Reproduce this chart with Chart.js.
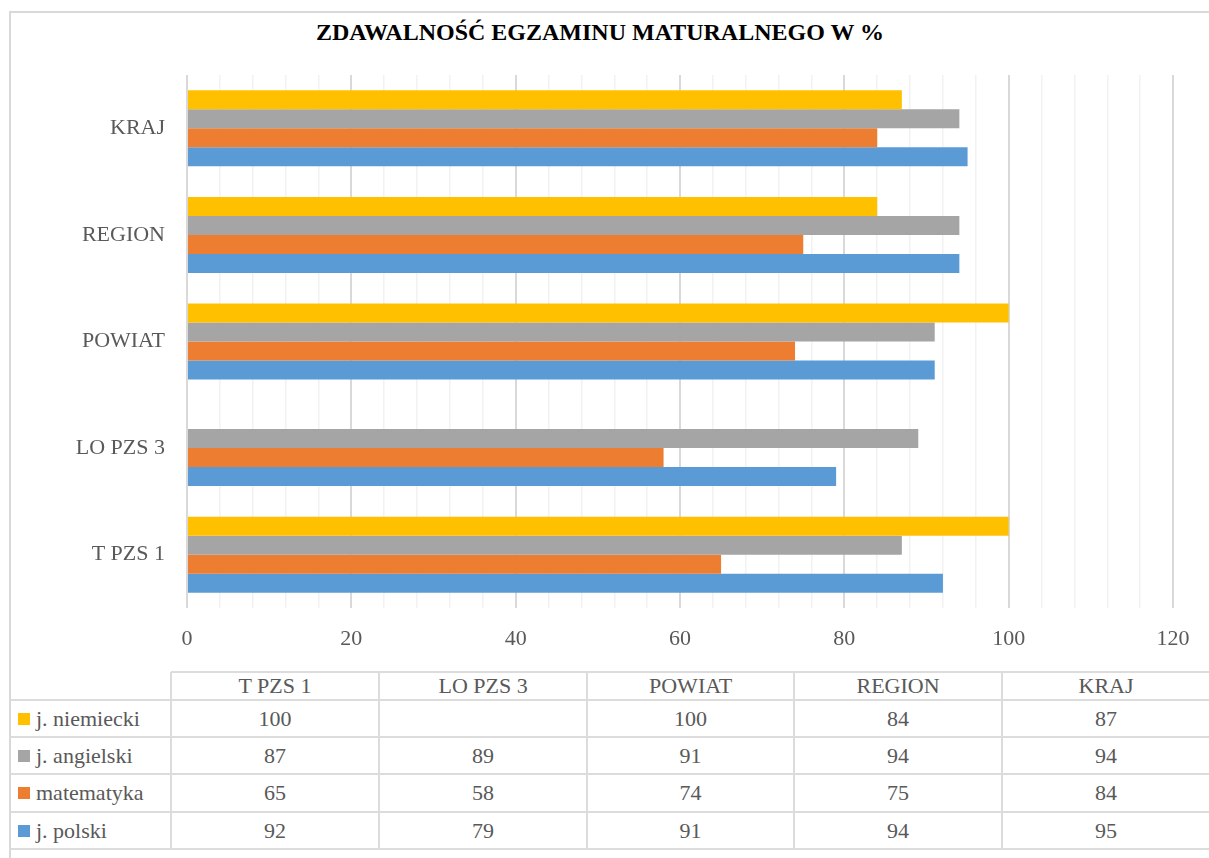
<!DOCTYPE html>
<html>
<head>
<meta charset="utf-8">
<script src="https://cdn.jsdelivr.net/npm/chart.js@4.4.1/dist/chart.umd.min.js"></script>
<style>
body{margin:0;background:#fff;width:1209px;height:858px;overflow:hidden;position:relative;font-family:"Liberation Serif",serif;color:#595959}
#frame{position:absolute;left:9px;top:11px;width:1300px;height:900px;border:2px solid #d9d9d9;box-sizing:border-box}
#wrap{position:absolute;left:0;top:0;width:1209px;height:658px}
#title{position:absolute;left:0;top:18px;width:1200px;text-align:center;font-size:24px;line-height:28px;font-weight:bold;color:#000}
.ln{position:absolute;background:#dcdcdc}
.txt{position:absolute;font-size:22px;line-height:26px;white-space:nowrap}
.key{position:absolute;width:12px;height:12px}
</style>
</head>
<body>
<div id="frame"></div>
<div id="title">ZDAWALNOŚĆ EGZAMINU MATURALNEGO W %</div>
<div id="wrap"><canvas id="chart" width="1209" height="658"></canvas></div>
<div id="tbl"></div>
<script>
let categories=["T PZS 1","LO PZS 3","POWIAT","REGION","KRAJ"];
let seriesNames=["j. niemiecki","j. angielski","matematyka","j. polski"];
let niemiecki=[100,null,100,84,87];
let angielski=[87,89,91,94,94];
let matematyka=[65,58,74,75,84];
let polski=[92,79,91,94,95];
let xTicks=[0,20,40,60,80,100,120];
let colors=["#FFC000","#A5A5A5","#ED7D31","#5B9BD5"];

let chart;

window.onload=function(){
    initChart();
    buildTable();
}

function initChart(){

    let series=[niemiecki,angielski,matematyka,polski];

    chart=new Chart(document.getElementById("chart"),{
        type:"bar",
        data:{
            labels:categories,
            datasets:series.map(function(d,i){
                return {
                    label:seriesNames[i],
                    data:d,
                    backgroundColor:colors[i],
                    borderWidth:0,
                    categoryPercentage:0.713,
                    barPercentage:1
                };
            })
        },
        options:{
            indexAxis:"y",
            responsive:false,
            animation:false,
            layout:{padding:{left:0,right:36,top:75,bottom:0}},
            plugins:{
                legend:{display:false},
                tooltip:{enabled:false}
            },
            scales:{
                x:{
                    min:0,
                    max:120,
                    border:{display:false},
                    grid:{
                        drawTicks:false,
                        color:function(c){return xTicks.includes(c.tick.value)?"#d9d9d9":"#f2f2f2";},
                        lineWidth:function(c){return xTicks.includes(c.tick.value)?2:1.5;}
                    },
                    ticks:{
                        stepSize:4,
                        autoSkip:false,
                        maxRotation:0,
                        padding:18,
                        color:"#595959",
                        font:{family:"Liberation Serif",size:22},
                        callback:function(v){return xTicks.includes(v)?String(v):"";}
                    },
                    afterFit:function(s){s.height=50;}
                },
                y:{
                    reverse:true,
                    border:{display:false},
                    grid:{display:false,drawTicks:false},
                    ticks:{
                        padding:22,
                        color:"#595959",
                        font:{family:"Liberation Serif",size:22}
                    },
                    afterFit:function(s){s.width=187;}
                }
            }
        }
    });
}

function addLine(x,y,w,h){
    let d=document.createElement("div");
    d.className="ln";
    d.style.left=x+"px";d.style.top=y+"px";d.style.width=w+"px";d.style.height=h+"px";
    document.getElementById("tbl").appendChild(d);
}

function addText(text,cx,cy,align){
    let d=document.createElement("div");
    d.className="txt";
    d.textContent=text;
    document.getElementById("tbl").appendChild(d);
    let w=d.offsetWidth;
    d.style.left=(align==="left"?cx:cx-w/2)+"px";
    d.style.top=(cy-13)+"px";
}

function buildTable(){

    let series=[niemiecki,angielski,matematyka,polski];
    let colX=[171,379,587,794,1002,1210];
    let rowY=[672,700,737,774,812,849];

    // linie tabeli
    addLine(171,rowY[0]-1,1100,2);
    for(let i=1;i<rowY.length;i++) addLine(10,rowY[i]-1,1200,2);
    for(let i=0;i<colX.length-1;i++) addLine(colX[i]-1,rowY[0],2,rowY[5]-rowY[0]);

    // naglowki kolumn
    for(let j=0;j<categories.length;j++){
        addText(categories[j],(colX[j]+colX[j+1])/2,(rowY[0]+rowY[1])/2);
    }

    for(let i=0;i<series.length;i++){
        let cy=(rowY[i+1]+rowY[i+2])/2;
        let k=document.createElement("div");
        k.className="key";
        k.style.left="18px";k.style.top=(cy-6)+"px";k.style.background=colors[i];
        document.getElementById("tbl").appendChild(k);
        addText(seriesNames[i],36,cy,"left");
        for(let j=0;j<categories.length;j++){
            let v=series[i][j];
            if(v!==null) addText(String(v),(colX[j]+colX[j+1])/2,cy);
        }
    }
}
</script>
</body>
</html>
